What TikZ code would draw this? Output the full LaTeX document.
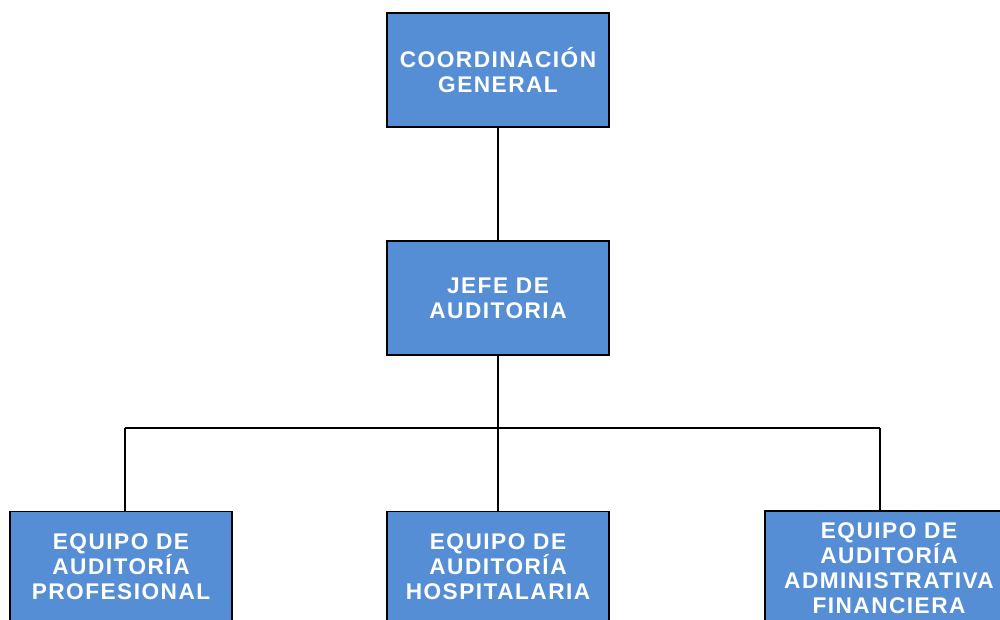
\documentclass[tikz,border=0pt]{standalone}
\usepackage{fontspec}
\setmainfont{Liberation Sans}
\newfontfamily\boxfont{Liberation Sans}[LetterSpace=6.5]
\definecolor{boxblue}{RGB}{85,142,213}
\begin{document}
\begin{tikzpicture}[x=0.02cm,y=-0.02cm,
  unitbox/.style={draw=black, line width=1.1pt, fill=boxblue,
    minimum width=4.44cm, minimum height=2.28cm, inner sep=0pt,
    text=white, align=center,
    font=\boxfont\bfseries\fontsize{12.9pt}{14.2pt}\selectfont},
  link/.style={draw=black, line width=1.1pt}]
\useasboundingbox (0,0) rectangle (1000,619);
\clip (0,0) rectangle (1000,619);
% top levels
\node[unitbox] (coord) at (498,70) {COORDINACIÓN\\GENERAL};
\node[unitbox] (jefe) at (498,298) {JEFE DE\\AUDITORIA};
% teams
\node[unitbox, minimum height=2.22cm] (prof) at (121,567) {EQUIPO DE\\AUDITORÍA\\PROFESIONAL};
\node[unitbox, minimum height=2.22cm] (hosp) at (498,567) {EQUIPO DE\\AUDITORÍA\\HOSPITALARIA};
\node[unitbox, minimum height=2.28cm, minimum width=4.96cm] (adm) at (889,568) {EQUIPO DE\\AUDITORÍA\\ADMINISTRATIVA\\FINANCIERA};
% connectors
\coordinate (bus) at (498,428);
\coordinate (busL) at (125,428);
\coordinate (busR) at (880,428);
\draw[link] (coord) -- (jefe);
\draw[link] (jefe) -- (bus);
\draw[link] (busL) -- (busR);
\draw[link] (busL) -- (busL |- prof.north);
\draw[link] (bus) -- (hosp);
\draw[link] (busR) -- (busR |- adm.north);
\end{tikzpicture}
\end{document}
